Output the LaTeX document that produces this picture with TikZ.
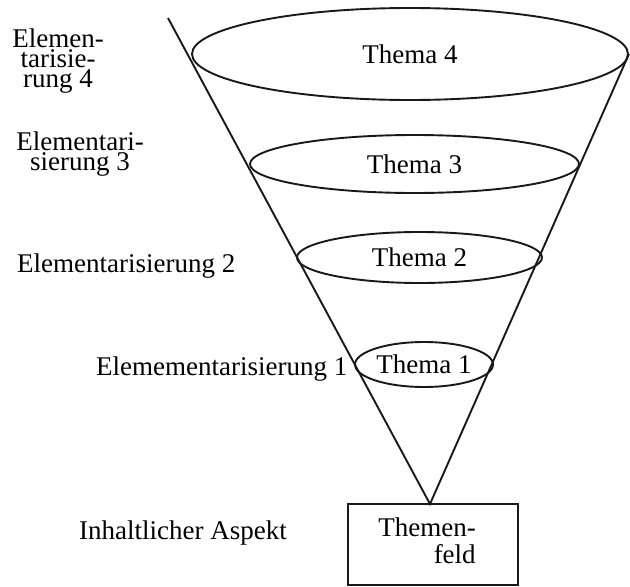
\documentclass[tikz,border=0pt]{standalone}
\usepackage{fontspec}
\setmainfont{Liberation Serif}
\usetikzlibrary{shapes.geometric}
\begin{document}
\begin{tikzpicture}[x=1pt,y=-1pt,
  font=\fontsize{27}{20}\selectfont,
  ink/.style={draw=black!90, line width=1.9pt},
  disc/.style={ink, ellipse, inner sep=0pt, text=black},
  lbl/.style={inner sep=0pt, text=black},
  fieldbox/.style={ink, rectangle, inner sep=0pt, text=black}]
\useasboundingbox (0,0) rectangle (630,587);
\fill[white] (0,0) rectangle (630,587);

% Themes (ellipses)
\node[disc, minimum width=436pt, minimum height=92pt] (t4) at (410,54) {Thema 4};
\node[disc, minimum width=329pt, minimum height=58pt] (t3) at (414.5,164) {Thema 3};
\node[disc, minimum width=245pt, minimum height=51pt] (t2) at (419.5,257.5) {Thema 2};
\node[disc, minimum width=138pt, minimum height=45pt] (t1) at (424,364.5) {Thema 1};

% Themenfeld box
\node[fieldbox, minimum width=170pt, minimum height=81pt] (feld) at (433,544.5)
  {\fontsize{27}{26}\selectfont\begin{tabular}{@{}r@{}}Themen-\\feld\end{tabular}\hspace*{12pt}};

% Funnel
\coordinate (ltop) at (168,18);
\coordinate (apex) at (430,504);
\draw[ink] (ltop) -- (apex) -- (t4.east);

% Left labels (anchor = baseline of last line)
\node[lbl, align=center, anchor=base] (e4) at (58,87) {Elemen-\\tarisie-\\rung 4};
\node[lbl, align=center, anchor=base] (e3) at (80,170) {Elementari-\\sierung 3};
\node[lbl, anchor=base west] (e2) at (17,272) {Elementarisierung 2};
\node[lbl, anchor=base west] (e1) at (96,375) {Elemementarisierung 1};
\node[lbl, anchor=base west] (asp) at (79,539) {Inhaltlicher Aspekt};
\end{tikzpicture}
\end{document}
